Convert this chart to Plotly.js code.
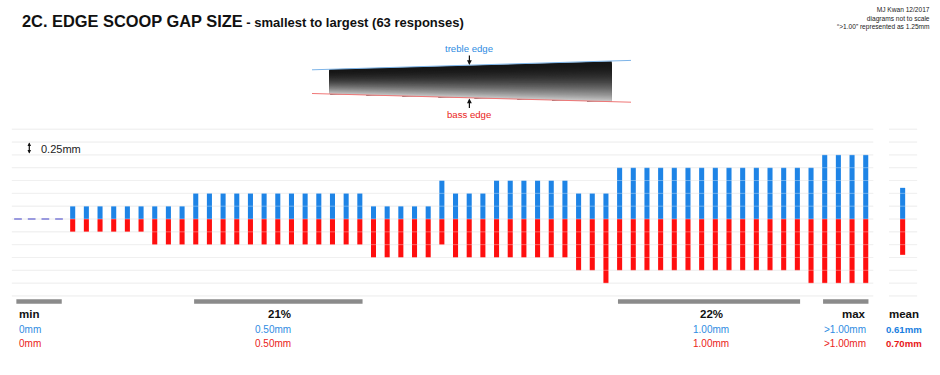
<!DOCTYPE html>
<html><head><meta charset="utf-8">
<script src="https://cdn.plot.ly/plotly-3.0.1.min.js"></script>
<style>html,body{margin:0;padding:0;background:#fff}</style>
</head><body>
<div id="chart" style="width:940px;height:375px"></div>
<script>
// ---- data: edge scoop gap per response (mm), sorted smallest to largest ----
const trebleGap = [0,0,0,0,
  0.25,0.25,0.25,0.25,0.25,0.25,0.25,0.25,0.25,
  0.5,0.5,0.5,0.5,0.5,0.5,0.5,0.5,0.5,0.5,0.5,0.5,0.5,
  0.25,0.25,0.25,0.25,0.25,
  0.75,
  0.5,0.5,0.5,
  0.75,0.75,0.75,0.75,0.75,0.75,
  0.5,0.5,0.5,
  1,1,1,1,1,1,1,1,1,1,1,1,1,1,1,
  1.25,1.25,1.25,1.25];
const bassGap = [0,0,0,0,
  0.25,0.25,0.25,0.25,0.25,0.25,
  0.5,0.5,0.5,0.5,0.5,0.5,0.5,0.5,0.5,0.5,0.5,0.5,0.5,0.5,0.5,0.5,
  0.75,0.75,0.75,0.75,0.75,
  0.5,
  0.75,0.75,0.75,0.75,0.75,0.75,0.75,0.75,0.75,
  1,1,
  1.25,
  1,1,1,1,1,1,1,1,1,1,1,1,1,1,
  1.25,1.25,1.25,1.25,1.25];
const summaryHeads  = ['min', '', '', 'max'];
const summaryTreble = ['0mm', '0.50mm', '1.00mm', '>1.00mm'];
const summaryBass   = ['0mm', '0.50mm', '1.00mm', '>1.00mm'];
const summaryPair   = [[0,0],[0.5,0.5],[1,1],[1.25,1.25]];
const gridLevels = [-1.5,-1.25,-1,-0.75,-0.5,-0.25,0,0.25,0.5,0.75,1,1.25,1.5,1.75];

// ---- styling ----
const BLUE = '#1e84e6', RED = '#ff0f0f', TBLUE = '#2f8ce2', TRED = '#ea2320';
const FONT = 'Liberation Sans, Arial, Helvetica, sans-serif';
const W = 940, H = 375;
const PX0 = 18, PXS = 13.673;        // pixel of index 0, pixels per response
const PY0 = 219, PYS = 51.3;         // baseline pixel, pixels per mm
const xr = [-PX0/PXS, (W-PX0)/PXS];
const yr = [-(H-PY0)/PYS, PY0/PYS];
const px = v => v / W, py = v => 1 - v / H;

const n = trebleGap.length;
const idx = trebleGap.map((_, i) => i);
const meanPos = n + 1.7;
const meanT = trebleGap.reduce((a,b)=>a+b,0)/n;
const meanB = bassGap.reduce((a,b)=>a+b,0)/n;
const zeroIdx = idx.filter(i => trebleGap[i]===0 && bassGap[i]===0);
const BW = 0.37;

const traces = [
  {type:'bar', x: idx, y: trebleGap, base: 0, width: BW, marker:{color: BLUE}, hoverinfo:'skip'},
  {type:'bar', x: idx, y: bassGap.map(v=>-v), base: 0, width: BW, marker:{color: RED}, hoverinfo:'skip'},
  {type:'bar', x: [meanPos], y: [meanT], base: 0, width: BW, marker:{color: BLUE}, hoverinfo:'skip'},
  {type:'bar', x: [meanPos], y: [-meanB], base: 0, width: BW, marker:{color: RED}, hoverinfo:'skip'},
  {type:'scatter', mode:'markers', x: zeroIdx, y: zeroIdx.map(()=>0),
   marker:{symbol:'line-ew', size:5.5, line:{width:1.6, color:'#6a6ad2'}}, hoverinfo:'skip'}
];

const shapes = [];
const mainX = [-0.45, n - 0.45];
const meanX = [n + 0.7, n + 2.76];
gridLevels.forEach(v => {
  [mainX, meanX].forEach(r => {
    shapes.push({type:'line', xref:'x', yref:'y', x0:r[0], x1:r[1], y0:v, y1:v,
      line:{color:'#e8e8e8', width:1}, layer:'below'});
    shapes.push({type:'line', xref:'x', yref:'y', x0:r[0], x1:r[1], y0:v, y1:v,
      line:{color:'rgba(255,255,255,0.35)', width:1}, layer:'above'});
  });
});

// summary grey bars
const annotations = [];
function txt(t, x, y, size, color, bold, anchor) {
  annotations.push({xref:'paper', yref:'paper', x: px(x), y: py(y), text: bold ? '<b>'+t+'</b>' : t,
    showarrow:false, xanchor: anchor || 'left', yanchor:'middle',
    font:{family: FONT, size: size, color: color}});
}
const groupIdx = summaryPair.map(p => idx.filter(i => trebleGap[i]===p[0] && bassGap[i]===p[1]));
const headX  = [[17,'left'], [293,'right'], [711,'center'], [868,'right']];
groupIdx.forEach((g, k) => {
  const first = Math.min(...g), last = Math.max(...g);
  shapes.push({type:'line', xref:'x', yref:'paper', x0:first-0.12, x1:last+0.2, y0:py(301.5), y1:py(301.5),
    line:{color:'#8b8b8b', width:4.5}});
  const head = summaryHeads[k] || (Math.round(g.length/n*100) + '%');
  txt(head, headX[k][0], 313.5, 11.5, '#111', true, headX[k][1]);
  txt(summaryTreble[k], headX[k][0], 329.5, 10, TBLUE, false, headX[k][1]);
  txt(summaryBass[k], headX[k][0], 343, 10, TRED, false, headX[k][1]);
});
txt('mean', 903.5, 313.5, 11.5, '#111', true, 'center');
txt(meanT.toFixed(2)+'mm', 904, 329.5, 9.6, '#1a7fe0', true, 'center');
txt(meanB.toFixed(2)+'mm', 904, 343, 9.6, '#e81818', true, 'center');

// title & notes
annotations.push({xref:'paper', yref:'paper', x: px(20), y: py(21), xanchor:'left', yanchor:'middle', showarrow:false,
  text:'<b>2C. EDGE SCOOP GAP SIZE</b><span style="font-size:13px"><b> - smallest to largest (63 responses)</b></span>',
  font:{family: FONT, size:16.4, color:'#111'}});
annotations.push({xref:'paper', yref:'paper', x: px(932), y: py(19), xanchor:'right', yanchor:'middle', align:'right',
  showarrow:false, text:'MJ Kwan 12/2017<br>diagrams not to scale<br>“>1.00” represented as 1.25mm',
  font:{family: FONT, size:6.6, color:'#222'}});

// scale key
annotations.push({xref:'paper', yref:'paper', x: px(29.3), y: py(142.5), ax:0, ay:12.5, text:'', showarrow:true,
  arrowhead:2, arrowsize:0.6, arrowwidth:1.2, arrowcolor:'#111', arrowside:'end+start',
  startarrowhead:2, startarrowsize:0.6});
txt('0.25mm', 38.5, 148.6, 11, '#222', false, 'left');

// diagram of the fingerboard edge scoop (vertical grey gradient, painted top to bottom)
const TLx = 329.3, TRx = 611.7, TL = 69.3, TR = 61.3, BL = 94, BR = 101.7;
const N = 40;
const c0 = [22,22,22], c1 = [205,205,205];
for (let k = 0; k < N; k++) {
  const t0 = k/N, tm = (k+0.5)/N;
  const f = Math.pow(tm, 2);
  const col = 'rgb(' + c0.map((c,j)=>Math.round(c + (c1[j]-c)*f)).join(',') + ')';
  const yl0 = TL + t0*(BL-TL), yr0 = TR + t0*(BR-TR);
  shapes.push({type:'path', xref:'paper', yref:'paper',
    path:`M ${px(TLx)} ${py(yl0)} L ${px(TRx)} ${py(yr0)} L ${px(TRx)} ${py(BR)} L ${px(TLx)} ${py(BL)} Z`,
    fillcolor: col, line:{width:0}});
}
shapes.push({type:'line', xref:'paper', yref:'paper', x0:px(312), y0:py(69.8), x1:px(631), y1:py(60.4),
  line:{color:'#7db4e8', width:1}});
shapes.push({type:'line', xref:'paper', yref:'paper', x0:px(312), y0:py(93.5), x1:px(631), y1:py(102.2),
  line:{color:'#f07676', width:1}});
annotations.push({xref:'paper', yref:'paper', x: px(469.4), y: py(65), ax:0, ay:-11, text:'', showarrow:true,
  arrowhead:2, arrowsize:0.8, arrowwidth:1.2, arrowcolor:'#111'});
annotations.push({xref:'paper', yref:'paper', x: px(469.4), y: py(98.5), ax:0, ay:11, text:'', showarrow:true,
  arrowhead:2, arrowsize:0.8, arrowwidth:1.2, arrowcolor:'#111'});
txt('treble edge', 468.5, 48.3, 9.6, TBLUE, false, 'center');
txt('bass edge', 469, 114, 9.6, TRED, false, 'center');

const layout = {
  width: W, height: H, margin:{l:0, r:0, t:0, b:0, pad:0},
  paper_bgcolor:'#fff', plot_bgcolor:'#fff', showlegend:false, barmode:'overlay',
  xaxis:{range: xr, visible:false, fixedrange:true},
  yaxis:{range: yr, visible:false, fixedrange:true},
  shapes: shapes, annotations: annotations
};
Plotly.newPlot('chart', traces, layout, {staticPlot:true, displayModeBar:false});
</script>
</body></html>
